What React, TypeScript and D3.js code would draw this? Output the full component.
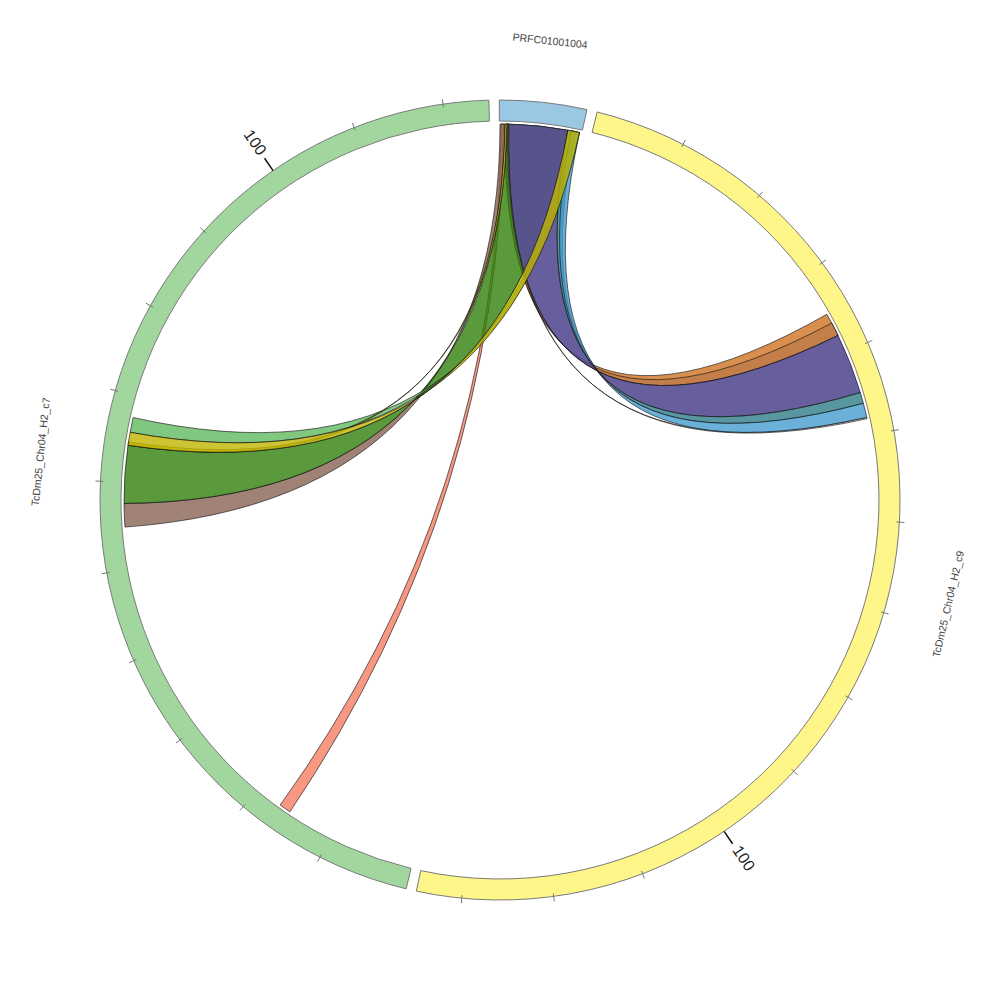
import React from "react";
import * as d3 from "d3";

// ---- data ----
const segNames = ["PRFC01001004", "TcDm25_Chr04_H2_c9", "TcDm25_Chr04_H2_c7"];
const segLengths = [9.6, 135.0, 125.0];
const segColors = ["#9ac8e2", "#fff68a", "#a1d79f"];

const tickStep = 10;
const labeledTicks = [100];

// links: source always on segment 0 (PRFC01001004)
const linkSrcStart = [0.65, 0.7, 0.2, 0.08, 0.88, 8.45, 1.12, 0.95, 7.96, 8.35, 0.65, 7.96];
const linkSrcEnd = [1.12, 1.12, 0.5, 0.65, 7.96, 9.33, 7.96, 1.05, 8.85, 9.33, 0.88, 9.33];
const linkTgtSeg = [1, 1, 2, 2, 2, 2, 1, 1, 1, 1, 2, 2];
const linkTgtStart = [35.14, 36.3, 15.47, 54.83, 57.56, 65.83, 37.91, 47.96, 45.0, 46.29, 64.31, 64.31];
const linkTgtEnd = [37.91, 37.91, 16.84, 57.56, 64.31, 67.57, 45.0, 48.12, 46.29, 47.96, 64.7, 65.83];
const linkColors = [
  "#cf7322", "#bd794a", "#f87e63", "#886354", "#31810b", "#60ba60",
  "#564c93", "#d8d8e4", "#2e7c88", "#459cce", "#c0b500", "#c0b500",
];
const linkOpacity = [0.8, 0.8, 0.8, 0.8, 0.8, 0.8, 0.9, 0.8, 0.8, 0.8, 0.8, 0.8];
const linkTwisted = [true, true, false, true, true, true, true, true, true, true, true, true];

// ---- layout ----
const W = 1000;
const H = 1000;
const CX = 500;
const CY = 500;
const R_IN = 379;
const R_OUT = 400;
const R_LINK = 376;
const GAP = 1.5;
const START = -0.1;

const rad = (d: number) => (d * Math.PI) / 180;

export default function App() {
  const total = d3.sum(segLengths);
  const u = (360 - GAP * segLengths.length) / total;
  const starts: number[] = [];
  let acc = START;
  segLengths.forEach((L) => {
    starts.push(acc);
    acc += L * u + GAP;
  });
  const scales = segLengths.map((L, i) =>
    d3.scaleLinear().domain([0, L]).range([starts[i], starts[i] + L * u])
  );

  const arcGen = d3.arc<any>();
  const P = (r: number, deg: number) => [r * Math.sin(rad(deg)), -r * Math.cos(rad(deg))];

  const linkPath = (a0: number, a1: number, b0: number, b1: number, twist: boolean) => {
    const p = d3.path();
    const R = R_LINK;
    const [x0, y0] = P(R, a0);
    p.moveTo(x0, y0);
    p.arc(0, 0, R, rad(a0) - Math.PI / 2, rad(a1) - Math.PI / 2, false);
    if (twist) {
      const [x, y] = P(R, b1);
      p.quadraticCurveTo(0, 0, x, y);
      p.arc(0, 0, R, rad(b1) - Math.PI / 2, rad(b0) - Math.PI / 2, true);
    } else {
      const [x, y] = P(R, b0);
      p.quadraticCurveTo(0, 0, x, y);
      p.arc(0, 0, R, rad(b0) - Math.PI / 2, rad(b1) - Math.PI / 2, false);
    }
    p.quadraticCurveTo(0, 0, x0, y0);
    p.closePath();
    return p.toString();
  };

  const font = "'Liberation Sans', Arial, sans-serif";

  return (
    <div style={{ position: "absolute", left: 0, top: 0 }}>
      <svg width={W} height={H} style={{ display: "block", background: "#fff" }}>
        <g transform={`translate(${CX},${CY})`}>
          {/* segments */}
          {segLengths.map((L, i) => (
            <path
              key={"seg" + i}
              d={
                arcGen({
                  innerRadius: R_IN,
                  outerRadius: R_OUT,
                  startAngle: rad(scales[i](0)),
                  endAngle: rad(scales[i](L)),
                }) as string
              }
              fill={segColors[i]}
              stroke="#7a7a7a"
              strokeWidth={1}
            />
          ))}
          {/* ticks */}
          {segLengths.map((L, i) => {
            const vals = d3.range(tickStep, L, tickStep);
            return vals.map((v) => {
              const a = scales[i](v);
              const major = labeledTicks.includes(v);
              const [x1, y1] = P(major ? R_OUT : R_OUT - 3, a);
              const [x2, y2] = P(major ? R_OUT + 15 : R_OUT + 5, a);
              const items = [
                <line
                  key={`t${i}-${v}`}
                  x1={x1}
                  y1={y1}
                  x2={x2}
                  y2={y2}
                  stroke={major ? "#111" : "#777"}
                  strokeWidth={major ? 1.5 : 1}
                />,
              ];
              if (major) {
                const [tx, ty] = P(R_OUT + 20, a);
                const right = a < 180;
                const rot = right ? a - 90 : a + 90;
                items.push(
                  <text
                    key={`tl${i}-${v}`}
                    x={tx}
                    y={ty}
                    transform={`rotate(${rot},${tx},${ty})`}
                    textAnchor={right ? "start" : "end"}
                    dominantBaseline="middle"
                    fontFamily={font}
                    fontSize={16}
                    fill="#222"
                  >
                    {v}
                  </text>
                );
              }
              return items;
            });
          })}
          {/* links */}
          {linkSrcStart.map((s, k) => {
            const a0 = scales[0](s);
            const a1 = scales[0](linkSrcEnd[k]);
            const ts = scales[linkTgtSeg[k]];
            const b0 = ts(linkTgtStart[k]);
            const b1 = ts(linkTgtEnd[k]);
            return (
              <path
                key={"link" + k}
                d={linkPath(a0, a1, b0, b1, linkTwisted[k])}
                fill={linkColors[k]}
                fillOpacity={linkOpacity[k]}
                stroke="#111"
                strokeOpacity={0.8}
                strokeWidth={0.8}
              />
            );
          })}
          {/* segment labels */}
          {segLengths.map((L, i) => {
            const mid = scales[i](L / 2);
            const [x, y] = P(461, mid);
            const rot = mid > 90 && mid < 270 ? mid - 180 : mid > 270 ? mid - 360 : mid;
            return (
              <text
                key={"lab" + i}
                x={x}
                y={y}
                transform={`rotate(${rot},${x},${y})`}
                textAnchor="middle"
                dominantBaseline="middle"
                fontFamily={font}
                fontSize={10.5}
                fill="#444"
              >
                {segNames[i]}
              </text>
            );
          })}
        </g>
      </svg>
    </div>
  );
}
